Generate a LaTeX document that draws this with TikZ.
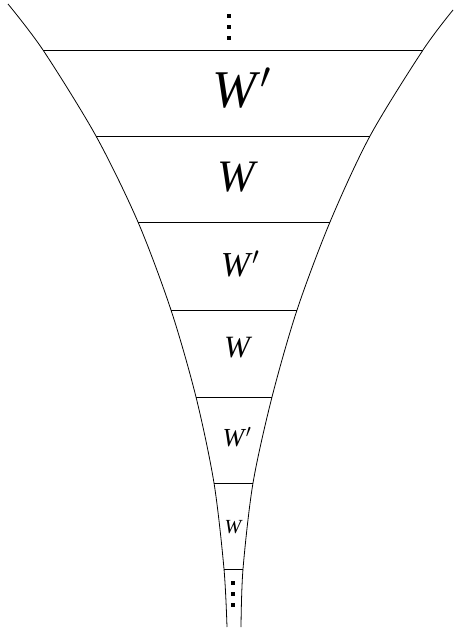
\RequirePackage{fix-cm}
\documentclass[tikz,border=0pt]{standalone}
\usepackage{fontspec}
\setmainfont{Liberation Serif}
\newcommand{\pr}{\kern0.06em$'$}
\begin{document}
\begin{tikzpicture}[x=1pt,y=-1pt,
  edge/.style={line width=0.8pt},
  lbl/.style={inner sep=0pt,anchor=center},
  dotsq/.style={fill=black,minimum size=3.6pt,inner sep=0pt,draw=none}]
\useasboundingbox (0,0) rectangle (454,632);
% left and right boundary curves
\draw[edge] plot[smooth,tension=0.5] coordinates {(8,4) (43,50) (96,136) (138,222) (171,310) (196,397) (214,483) (224,569) (227,627)};
\draw[edge] plot[smooth,tension=0.5] coordinates {(453,10) (423,50) (370,136) (330,222) (297,310) (272,397) (253,483) (243,569) (241,627)};
% rung end points
\coordinate (L1) at (43,50);  \coordinate (R1) at (423,50);
\coordinate (L2) at (96,136); \coordinate (R2) at (370,136);
\coordinate (L3) at (138,222);\coordinate (R3) at (330,222);
\coordinate (L4) at (171,310);\coordinate (R4) at (297,310);
\coordinate (L5) at (196,397);\coordinate (R5) at (272,397);
\coordinate (L6) at (214,483);\coordinate (R6) at (253,483);
\coordinate (L7) at (224,569);\coordinate (R7) at (243,569);
\foreach \i in {1,...,7} {\draw[edge] (L\i) -- (R\i);}
% labels
\node[lbl] (t1) at (242,88)  {\fontsize{53}{60}\selectfont\itshape W\pr};
\node[lbl] (t2) at (236,177) {\fontsize{45}{50}\selectfont\itshape W};
\node[lbl] (t3) at (240,264) {\fontsize{35}{40}\selectfont\itshape W\pr};
\node[lbl] (t4) at (237,348) {\fontsize{31}{36}\selectfont\itshape W};
\node[lbl] (t5) at (237,437) {\fontsize{26}{30}\selectfont\itshape W\pr};
\node[lbl] (t6) at (233,527) {\fontsize{20}{24}\selectfont\itshape W};
% dots
\node[dotsq] (d1) at (229,16) {};
\node[dotsq] (d2) at (229,27) {};
\node[dotsq] (d3) at (229,38) {};
\node[dotsq] (d4) at (233,583) {};
\node[dotsq] (d5) at (233,594) {};
\node[dotsq] (d6) at (233,605) {};
\end{tikzpicture}
\end{document}
